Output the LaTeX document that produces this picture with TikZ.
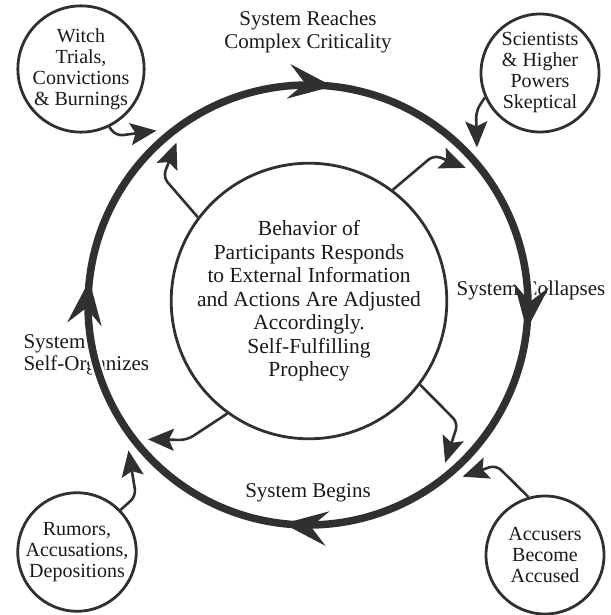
\documentclass[tikz,border=0pt]{standalone}
\usepackage{fontspec}
\setmainfont{Liberation Serif}
\usetikzlibrary{arrows.meta,decorations.markings,calc}
\definecolor{ink}{RGB}{48,48,48}
\definecolor{type}{RGB}{25,25,25}
\tikzset{
  ringhead/.tip={Stealth[length=44pt,width=34pt,inset=16pt]},
  feedhead/.tip={Stealth[length=26pt,width=22pt,inset=5pt]},
  bubble/.style={circle,draw=ink,line width=2.8pt,minimum size=118pt,inner sep=0pt,
    align=center,text=type,font=\fontsize{20}{21}\selectfont},
  hubstyle/.style={circle,draw=ink,line width=2.8pt,minimum size=252pt,inner sep=0pt,
    align=center,text=type,font=\fontsize{21.5}{23.5}\selectfont},
  lbl/.style={align=center,text=type,font=\fontsize{21}{22.5}\selectfont},
  feed/.style={draw=ink,line width=2.6pt,rounded corners=7pt,-feedhead},
}

\begin{document}
\begin{tikzpicture}[x=1pt,y=1pt]
\useasboundingbox (0,0) rectangle (610,-615);
\coordinate (C) at (308,-305);

\node[hubstyle] (hub) at (309,-301) {Behavior of\\Participants Responds\\to External Information\\and Actions Are Adjusted\\Accordingly.\\Self-Fulfilling\\Prophecy};
\node[bubble] (W) at (81,-69) {Witch\\Trials,\\Convictions\\\& Burnings};
\node[bubble] (S) at (540,-73) {Scientists\\\& Higher\\Powers\\Skeptical};
\node[bubble] (A) at (545,-555) {Accusers\\Become\\Accused};
\node[bubble] (R) at (77,-552) {Rumors,\\Accusations,\\Depositions};

\node[lbl] (reach) at (308,-32) {System Reaches\\Complex Criticality};
\node[lbl] (collapse) at (531,-290) {System Collapses};
\node[lbl,align=left,anchor=west] (organize) at (20,-355) {System\\Self-Organizes};
\node[lbl] (begin) at (308,-493) {System Begins};

\coordinate (tW) at ($(C)+(131:231)$);
\coordinate (tNW) at ($(C)+(129:209)$);
\coordinate (tS) at ($(C)+(43:231)$);
\coordinate (tNE) at ($(C)+(41:209)$);
\coordinate (tSE) at ($(C)+(-49:209)$);
\coordinate (tA) at ($(C)+(-48:231)$);
\coordinate (tSW) at ($(C)+(-140:209)$);
\coordinate (tR) at ($(C)+(-141:231)$);

\draw[feed] (W.-64) -- (116,-136) -- (tW);
\draw[feed] (hub.143) -- (163,-177) -- (tNW);
\draw[feed] (S.204) -- (476,-111) -- (tS);
\draw[feed] (hub.53) -- (434,-155) -- (tNE);
\draw[feed] (hub.-37) -- (458,-423) -- (tSE);
\draw[feed] (A.106) -- (496,-465) -- (tA);
\draw[feed] (hub.-126) -- (187,-440) -- (tSW);
\draw[feed] (R.44) -- (136,-496) -- (tR);

\draw[white,line width=13pt] (C) circle[radius=220];
\draw[ink,line width=7.5pt,postaction={decorate},
  decoration={markings,
    mark=at position 0.018 with {\arrow{ringhead}},
    mark=at position 0.268 with {\arrow{ringhead}},
    mark=at position 0.518 with {\arrow{ringhead}},
    mark=at position 0.768 with {\arrow{ringhead}}}]
  (C) ++(90:220) arc[start angle=90,end angle=-270,radius=220];
\end{tikzpicture}
\end{document}
